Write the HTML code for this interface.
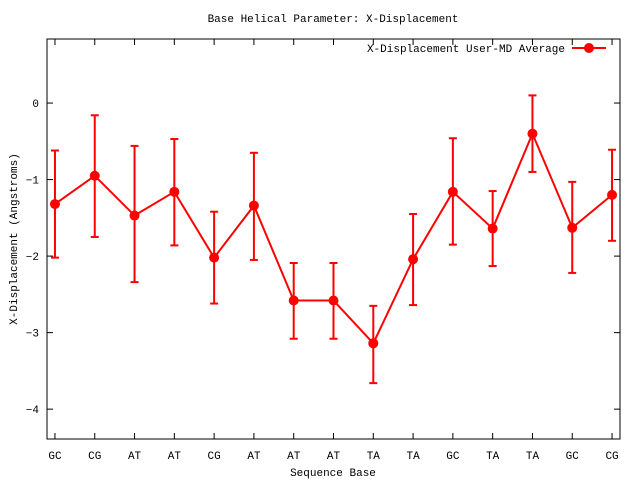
<!DOCTYPE html>
<html><head><meta charset="utf-8"><style>
body{margin:0;background:#fff}
svg text{font-family:"Liberation Mono",monospace;font-size:11px;fill:#000}
</style></head><body>
<svg id="chart" width="640" height="480" viewBox="0 0 640 480" xmlns="http://www.w3.org/2000/svg">
<text x="333" y="22" text-anchor="middle">Base  Helical Parameter: X-Displacement</text>
<rect x="47" y="39" width="573" height="400" fill="none" stroke="#000" stroke-width="1"/>
<g id="axes"></g>
<g id="series"></g>
<text x="333" y="476" text-anchor="middle">Sequence Base</text>
<text transform="translate(17,239) rotate(-90)" text-anchor="middle">X-Displacement (Angstroms)</text>
<g>
<text x="565" y="52" text-anchor="end">X-Displacement User-MD Average</text>
<line x1="572" y1="48" x2="606" y2="48" stroke="#f00" stroke-width="2"/>
<circle cx="589" cy="48" r="5" fill="#f00"/>
</g>
</svg>
<script>
const categories=["GC","CG","AT","AT","CG","AT","AT","AT","TA","TA","GC","TA","TA","GC","CG"];
const values=[-1.32,-0.95,-1.47,-1.16,-2.02,-1.34,-2.58,-2.58,-3.14,-2.04,-1.16,-1.64,-0.40,-1.63,-1.20];
const errHigh=[-0.62,-0.16,-0.56,-0.47,-1.42,-0.65,-2.09,-2.09,-2.65,-1.45,-0.46,-1.15,0.10,-1.03,-0.61];
const errLow=[-2.02,-1.75,-2.34,-1.86,-2.62,-2.05,-3.08,-3.08,-3.66,-2.64,-1.85,-2.13,-0.90,-2.22,-1.80];
const yTicks=[0,-1,-2,-3,-4];
const yTickLabels=["0","\u22121","\u22122","\u22123","\u22124"];
const L=47,R=620,T=39,B=439,NS="http://www.w3.org/2000/svg";
const xmin=0.8,xmax=categories.length+0.2,ymax=0.837,ymin=-4.39;
const X=i=>L+(i+1-xmin)/(xmax-xmin)*(R-L);
const Y=v=>T+(ymax-v)/(ymax-ymin)*(B-T);
function mk(tag,attrs,parent){const e=document.createElementNS(NS,tag);for(const k in attrs)e.setAttribute(k,attrs[k]);parent.appendChild(e);return e;}
const ax=document.getElementById('axes'),se=document.getElementById('series');
yTicks.forEach((v,i)=>{
 const l=mk('line',{x1:L,x2:L+6,y1:Y(v),y2:Y(v),stroke:'#000'},ax);
 
 
 const l2=mk('line',{x1:R-6,x2:R,y1:Y(v),y2:Y(v),stroke:'#000'},ax);
 
 
 const t=mk('text',{x:L-8,y:Y(v)+4,'text-anchor':'end'},ax);t.textContent=yTickLabels[i];
 
 
});
categories.forEach((c,i)=>{
 const l=mk('line',{x1:X(i),x2:X(i),y1:B,y2:B-6,stroke:'#000'},ax);
 
 
 const l2=mk('line',{x1:X(i),x2:X(i),y1:T,y2:T+6,stroke:'#000'},ax);
 
 
 const t=mk('text',{x:X(i),y:B+20,'text-anchor':'middle'},ax);t.textContent=c;
 
 
});
const pts=values.map((v,i)=>X(i)+','+Y(v)).join(' ');
const pl=mk('polyline',{points:pts,fill:'none',stroke:'#f00','stroke-width':2},se);


values.forEach((v,i)=>{
 const x=X(i),g=mk('g',{},se);
 
 
 mk('line',{x1:x,x2:x,y1:Y(errHigh[i]),y2:Y(errLow[i]),stroke:'#f00','stroke-width':2},g);
 mk('line',{x1:x-4,x2:x+4,y1:Y(errHigh[i]),y2:Y(errHigh[i]),stroke:'#f00','stroke-width':2},g);
 mk('line',{x1:x-4,x2:x+4,y1:Y(errLow[i]),y2:Y(errLow[i]),stroke:'#f00','stroke-width':2},g);
 const c=mk('circle',{cx:x,cy:Y(v),r:5,fill:'#f00'},se);
 
 
});
</script>
</body></html>
